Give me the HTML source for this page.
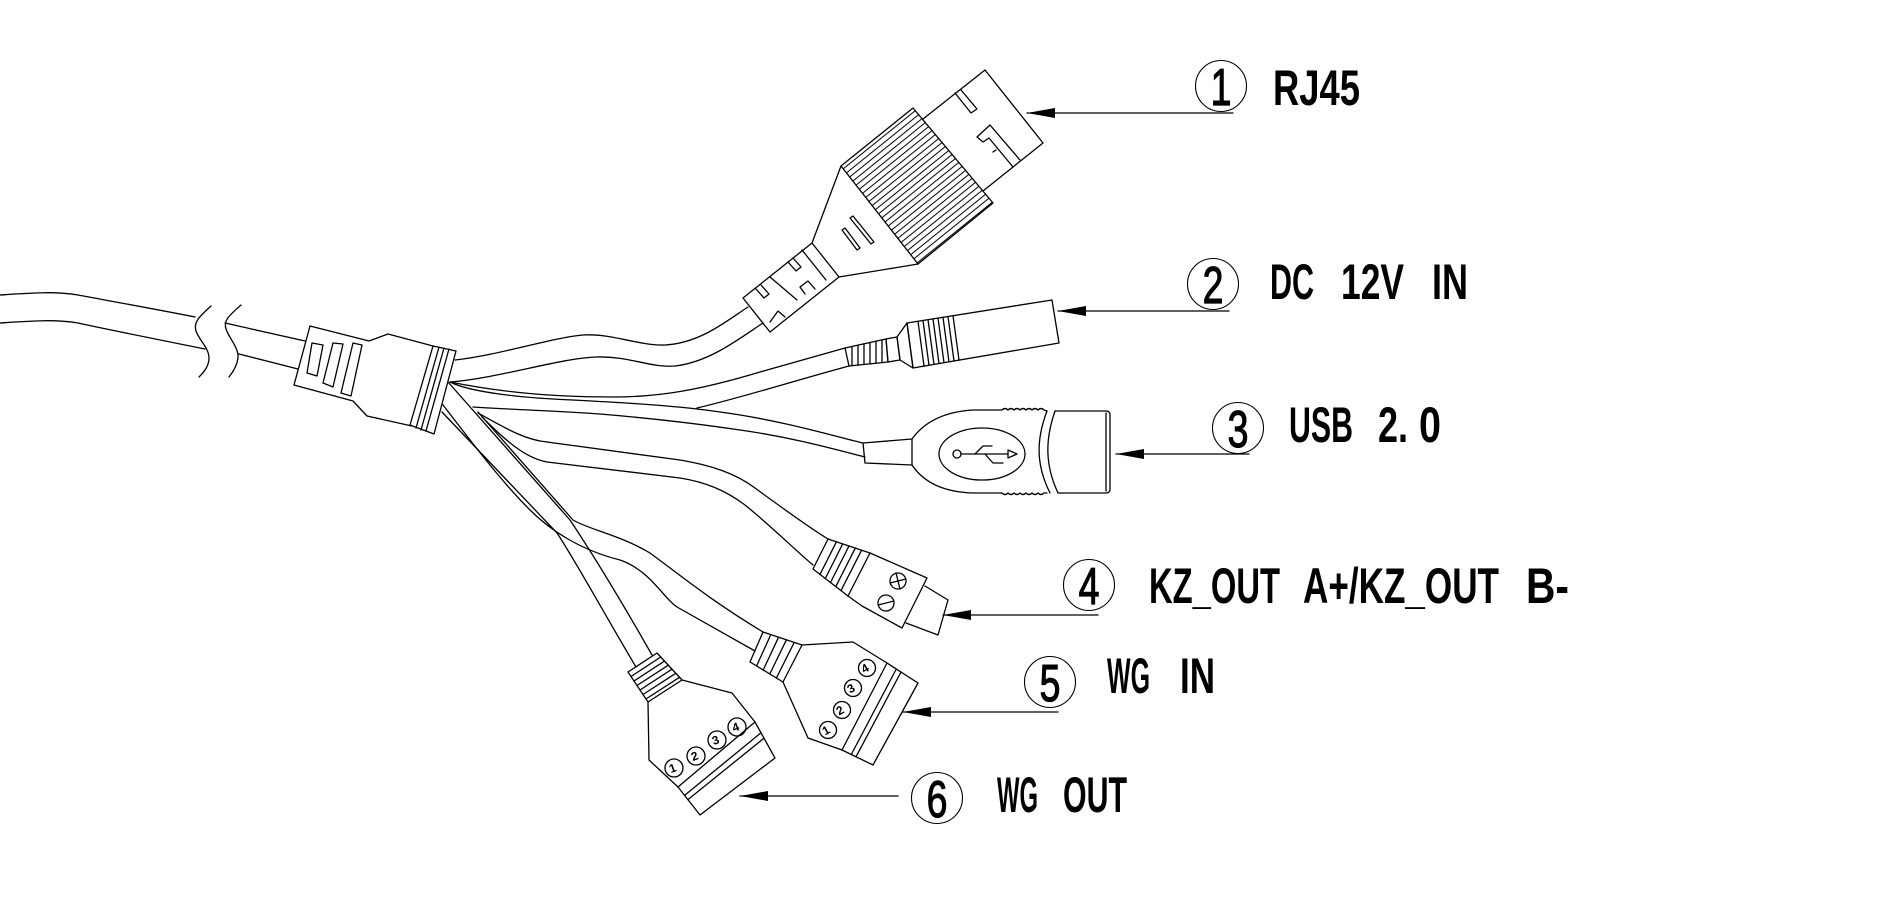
<!DOCTYPE html>
<html>
<head>
<meta charset="utf-8">
<style>
html,body{margin:0;padding:0;background:#fff;}
svg{display:block;}
.lbl{font-family:"Liberation Sans",sans-serif;font-weight:bold;font-size:50px;fill:#000;stroke:none;}
.dg{font-family:"Liberation Sans",sans-serif;font-weight:normal;font-size:52px;fill:#000;stroke:#000;stroke-width:1.2;}
.sm{font-family:"Liberation Sans",sans-serif;font-weight:bold;font-size:12px;fill:#000;stroke:none;}
</style>
</head>
<body>
<svg width="1881" height="912" viewBox="0 0 1881 912" xmlns="http://www.w3.org/2000/svg">
<defs>
<pattern id="hatch" width="5.2" height="10" patternUnits="userSpaceOnUse" patternTransform="rotate(51.1)">
<rect x="0" y="0" width="1" height="10" fill="#000"/>
</pattern>
</defs>
<g fill="none" stroke="#000" stroke-width="1.3" stroke-linejoin="round" stroke-linecap="round">

<!-- left cable -->
<path d="M0,295 C30,293 55,291 78,295 C110,301 160,310 195,317"/>
<path d="M0,323 C30,321 55,319 78,323 C110,330 165,341 205,349"/>
<path d="M211,306 C200,316 193,322 196,331 C199,340 209,348 209,358 C209,366 204,372 199,377"/>
<path d="M241,305 C230,315 223,320 226,329 C229,338 239,348 238,358 C237,366 233,372 229,377"/>
<path d="M225,323 L305,341"/>
<path d="M239,354 L298,369"/>

<!-- hub -->
<path d="M310,326 L369,341 L388,334 L433,346"/>
<path d="M294,385 L353,401 L367,416 L412,426"/>
<path d="M310,326 L294,385"/>
<polygon points="312,343 323,345 317,376 307,373"/>
<polygon points="333,343 343,344 333,387 323,383"/>
<polygon points="353,343 362,345 351,396 341,393"/>
<polygon points="433,346 456,351 434,434 410,425"/>
<path d="M439,347 L416,428 M444,348 L421,430 M449,349 L426,431"/>

<!-- RJ45 cable -->
<path d="M455,360 C500,355 550,338 583,335 C610,333 640,346 665,345 C700,343 725,322 748,307"/>
<path d="M450,382 C500,378 560,358 597,357 C630,356 650,368 675,366 C710,362 740,338 763,323"/>

<!-- DC cable -->
<path d="M450,382 C490,390 540,397 613,397 C660,397 700,390 760,372 L845,348"/>
<path d="M697,408 C740,398 790,382 849,366"/>

<!-- USB cable -->
<path d="M450,382 C470,392 520,398 573,400 C630,403 680,406 720,412 C780,420 830,435 863,443"/>
<path d="M473,407 C520,410 560,411 600,414 C660,419 700,424 740,430 C790,437 830,448 865,457"/>

<!-- KZ cable -->
<path d="M478,413 C505,428 525,440 547,442 L680,460 C710,465 735,473 755,488 C785,510 810,528 828,539"/>
<path d="M482,417 C505,440 525,458 547,462 L680,478 C705,482 725,490 745,505 C770,525 795,550 813,565"/>

<!-- WG IN cable -->
<path d="M478,412 L573,520 C590,530 620,535 650,553 C680,575 710,600 763,632"/>
<path d="M443,405 C470,440 500,480 530,510 C550,530 580,550 620,560 C650,570 665,600 677,607 L755,651"/>

<!-- WG OUT cable -->
<path d="M448,382 L570,520 C590,550 615,590 652,655"/>
<path d="M442,412 L557,533 C575,560 605,615 636,667"/>

<!-- RJ45 connector -->
<polygon points="743,298 812,243 839,277 770,332"/>
<path d="M770,277 L797,300"/>
<path d="M802,250 L826,280"/>
<path d="M756,289 L764,298 L769,294 L761,285"/>
<path d="M788,262 L796,271 L801,267 L793,258"/>
<path d="M770,322 L778,311 L785,317"/>
<path d="M805,294 L800,287 L808,281 L815,289"/>
<path d="M841,166 L812,243"/>
<path d="M918,264 L900,267 L839,277"/>
<polygon points="850,218 853,216 874,242 871,244"/>
<polygon points="842,230 845,228 860,248 857,250"/>
<polygon points="841,166 913,108 993,203 918,264" fill="url(#hatch)"/>
<polyline points="923,119 985,70 1043,143 983,191"/>
<polyline points="955,93 971,113 977,109 961,90"/>
<path d="M977,137 L990,125 L1020,160 M977,137 L983,142 L989,138 L1013,167 M993,152 L996,150"/>

<!-- DC jack -->
<polygon points="845,348 886,339 888,362 849,366"/>
<path d="M852,346.5 L852,365.7 M858,345.1 L858,365.1 M864,343.8 L864,364.5 M870,342.5 L870,363.9 M876,341.2 L876,363.3 M882,339.9 L882,362.7"/>
<polygon points="886,339 897,337 900,360 888,362"/>
<polygon points="897,337 907,323 913,368 900,360"/>
<polygon points="907,323 1052,300 1059,343 913,368"/>
<path d="M918,321.3 L924,366.1 M923,320.5 L929,365.3 M928,319.7 L934,364.4 M933,318.9 L939,363.5 M938,318.1 L944,362.7 M943,317.3 L949,361.8 M948,316.5 L954,361 M953,315.7 L959,360.1"/>

<!-- USB -->
<path d="M863,443 L912,439 L912,465 L865,463 Z"/>
<path d="M912,439 C922,425 940,412 973,410 L1002,410 q3,-3 6,0 q3,-3 6,0 q3,-3 6,0 q3,-3 6,0 q3,-3 6,0 q3,-3 6,0 q3,-3 6,0 L1047,411"/>
<path d="M912,465 C922,480 940,492 973,493 L1002,493 q3,3 6,0 q3,3 6,0 q3,3 6,0 q3,3 6,0 q3,3 6,0 q3,3 6,0 q3,3 6,0 L1047,493"/>
<path d="M1047,411 C1036,440 1036,465 1050,493"/>
<path d="M1055,411 C1045,440 1045,465 1058,493"/>
<path d="M1055,411 L1106,411 Q1110,411 1110,415 L1110,489 Q1110,493 1106,493 L1058,493"/>
<path d="M1106,413 L1106,491"/>
<ellipse cx="982" cy="454" rx="43" ry="26"/>
<circle cx="957" cy="454" r="4"/>
<path d="M961,454 L1008,454"/>
<polygon points="1008,450 1017,454 1008,458"/>
<path d="M975,454 L983,446 L992,446"/>
<path d="M985,454 L993,463 L1003,463"/>

<!-- KZ connector -->
<polygon points="828,539 870,553 848,596 813,569"/>
<path d="M836.4,541.8 L820,574.4 M842.7,543.9 L825.3,578.5 M849,546 L830.5,582.5 M855.3,548.1 L835.8,586.6 M861.6,550.2 L841,590.6"/>
<path d="M870,553 L927,578 L902,628 L862,606 L848,596"/>
<polyline points="925,586 948,600 938,635 906,623"/>
<circle cx="898" cy="581" r="8"/>
<path d="M890,583 L906,579 M896,573 L900,589"/>
<circle cx="886" cy="603" r="8"/>
<path d="M878,605 L894,601"/>

<!-- WG IN connector -->
<polygon points="763,632 802,645 783,682 750,662"/>
<path d="M770.8,634.6 L756.6,666 M778.6,637.2 L763.2,670 M786.4,639.8 L769.8,674 M794.2,642.4 L776.4,678"/>
<path d="M802,645 L853,642 L887,663"/>
<path d="M842,750 L808,738 L783,682"/>
<polygon points="887,663 918,683 873,765 842,750"/>
<path d="M896.3,669 L851.3,754.5 M901,672 L856,756.8"/>
<circle cx="828" cy="730" r="8.5"/>
<circle cx="842" cy="710" r="8.5"/>
<circle cx="853" cy="688" r="8.5"/>
<circle cx="867" cy="668" r="8.5"/>

<!-- WG OUT connector -->
<polygon points="628,672 657,653 682,680 648,702"/>
<path d="M631,676.5 L660.8,657 M634,681 L664.5,661.1 M637,685.5 L668.3,665.2 M640,690 L672,669.2 M643,694.5 L675.8,673.3 M646,699 L679.5,677.3"/>
<path d="M682,680 L732,693 L755,722"/>
<path d="M648,702 L649,760 L678,787"/>
<polygon points="755,722 775,758 700,815 678,787"/>
<path d="M761,732.8 L684.6,795.4 M764,738.2 L687.9,799.6"/>
<circle cx="674" cy="768" r="9"/>
<circle cx="696" cy="756" r="9"/>
<circle cx="717" cy="740" r="9"/>
<circle cx="737" cy="727" r="9"/>

<!-- leader lines -->
<path d="M1027,113 L1233,113"/>
<path d="M1058,311 L1229,311"/>
<path d="M1116,454 L1249,454"/>
<path d="M943,615 L1098,615"/>
<path d="M903,712 L1058,712"/>
<path d="M740,796 L898,796"/>

<!-- label circles -->
<circle cx="1221" cy="86" r="25.5" stroke-width="1.1"/>
<circle cx="1213" cy="284" r="25.5" stroke-width="1.1"/>
<circle cx="1238" cy="428" r="25.5" stroke-width="1.1"/>
<circle cx="1089" cy="585" r="25.5" stroke-width="1.1"/>
<circle cx="1050" cy="682" r="25.5" stroke-width="1.1"/>
<circle cx="937" cy="798" r="25.5" stroke-width="1.1"/>
</g>

<!-- arrowheads -->
<g fill="#000" stroke="none">
<polygon points="1027,113 1055,108 1055,118"/>
<polygon points="1058,311 1086,306 1086,316"/>
<polygon points="1116,454 1144,449 1144,459"/>
<polygon points="943,615 971,610 971,620"/>
<polygon points="903,712 931,707 931,717"/>
<polygon points="740,796 768,791 768,801"/>
</g>

<!-- small numbers in connectors -->
<g>
<text class="sm" text-anchor="middle" transform="translate(828,734) rotate(-30)">1</text>
<text class="sm" text-anchor="middle" transform="translate(842,714) rotate(-30)">2</text>
<text class="sm" text-anchor="middle" transform="translate(853,692) rotate(-30)">3</text>
<text class="sm" text-anchor="middle" transform="translate(867,672) rotate(-30)">4</text>
<text class="sm" text-anchor="middle" transform="translate(674,772) rotate(-20)">1</text>
<text class="sm" text-anchor="middle" transform="translate(696,760) rotate(-20)">2</text>
<text class="sm" text-anchor="middle" transform="translate(717,744) rotate(-20)">3</text>
<text class="sm" text-anchor="middle" transform="translate(737,731) rotate(-20)">4</text>
</g>

<!-- circled digits -->
<g>
<text class="dg" text-anchor="middle" transform="translate(1221,105) scale(0.72,1)">1</text>
<text class="dg" text-anchor="middle" transform="translate(1213,303) scale(0.72,1)">2</text>
<text class="dg" text-anchor="middle" transform="translate(1238,447) scale(0.72,1)">3</text>
<text class="dg" text-anchor="middle" transform="translate(1089,604) scale(0.72,1)">4</text>
<text class="dg" text-anchor="middle" transform="translate(1050,701) scale(0.72,1)">5</text>
<text class="dg" text-anchor="middle" transform="translate(937,817) scale(0.72,1)">6</text>
</g>

<!-- labels -->
<g>
<text class="lbl" x="1273" y="105" textLength="87" lengthAdjust="spacingAndGlyphs">RJ45</text>

<text class="lbl" x="1270" y="299" textLength="44" lengthAdjust="spacingAndGlyphs">DC</text>
<text class="lbl" x="1341" y="299" textLength="63" lengthAdjust="spacingAndGlyphs">12V</text>
<text class="lbl" x="1432" y="299" textLength="36" lengthAdjust="spacingAndGlyphs">IN</text>

<text class="lbl" x="1289" y="442" textLength="64" lengthAdjust="spacingAndGlyphs">USB</text>
<text class="lbl" x="1378" y="442" textLength="30" lengthAdjust="spacingAndGlyphs">2.</text>
<text class="lbl" x="1419" y="442" textLength="22" lengthAdjust="spacingAndGlyphs">0</text>

<text class="lbl" x="1149" y="603" textLength="131" lengthAdjust="spacingAndGlyphs">KZ_OUT</text>
<text class="lbl" x="1303" y="603" textLength="196" lengthAdjust="spacingAndGlyphs">A+/KZ_OUT</text>
<text class="lbl" x="1526" y="603" textLength="43" lengthAdjust="spacingAndGlyphs">B-</text>

<text class="lbl" x="1107" y="693" textLength="43" lengthAdjust="spacingAndGlyphs">WG</text>
<text class="lbl" x="1180" y="693" textLength="35" lengthAdjust="spacingAndGlyphs">IN</text>

<text class="lbl" x="997" y="812" textLength="41" lengthAdjust="spacingAndGlyphs">WG</text>
<text class="lbl" x="1063" y="812" textLength="64" lengthAdjust="spacingAndGlyphs">OUT</text>
</g>
</svg>
</body>
</html>
